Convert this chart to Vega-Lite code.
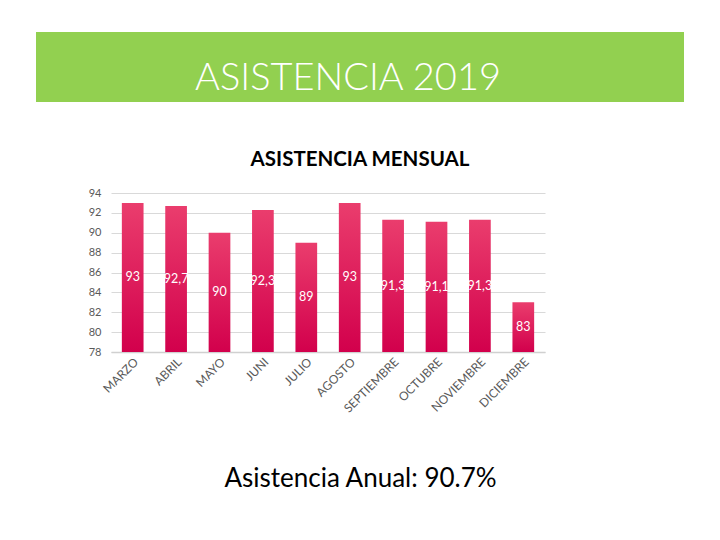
{
  "$schema": "https://vega.github.io/schema/vega-lite/v6.json",
  "background": "white",
  "padding": {"left": 36, "top": 32, "right": 0, "bottom": 0},
  "spacing": 47,
  "config": {"view": {"stroke": null}, "font": "Lato"},
  "vconcat": [
    {
      "width": 648,
      "height": 70,
      "view": {"fill": "#92D050", "stroke": null},
      "data": {"values": [{"t": "ASISTENCIA 2019"}]},
      "mark": {"type": "text", "fontSize": 38, "color": "white", "baseline": "middle", "align": "center", "fontWeight": 300, "dy": 12, "dx": -12},
      "encoding": {"text": {"field": "t", "type": "nominal"}}
    },
    {
      "spacing": 0,
      "hconcat": [
        {
          "width": 1,
          "height": 159,
          "data": {"values": [{"t": ""}]},
          "mark": {"type": "text", "opacity": 0},
          "encoding": {"text": {"field": "t", "type": "nominal"}}
        },
        {
          "width": 434,
          "height": 159,
          "title": {"text": "ASISTENCIA MENSUAL", "fontSize": 20.5, "fontWeight": "bold", "color": "#000000", "dx": 32, "offset": 17, "font": "Lato"},
          "data": {"values": [
            {"mes": "MARZO", "valor": 93},
            {"mes": "ABRIL", "valor": 92.7},
            {"mes": "MAYO", "valor": 90},
            {"mes": "JUNI", "valor": 92.3},
            {"mes": "JULIO", "valor": 89},
            {"mes": "AGOSTO", "valor": 93},
            {"mes": "SEPTIEMBRE", "valor": 91.3},
            {"mes": "OCTUBRE", "valor": 91.1},
            {"mes": "NOVIEMBRE", "valor": 91.3},
            {"mes": "DICIEMBRE", "valor": 83}
          ]},
          "transform": [
            {"calculate": "(datum.valor + 78) / 2", "as": "medio"},
            {"calculate": "replace(toString(datum.valor), '.', ',')", "as": "etiqueta"}
          ],
          "encoding": {
            "x": {
              "field": "mes", "type": "nominal", "sort": null,
              "scale": {"paddingInner": 0.5, "paddingOuter": 0.25},
              "axis": {
                "title": "Asistencia Anual: 90.7%",
                "titleFontSize": 26, "titleFontWeight": "normal", "titleColor": "#000000", "titleFont": "Lato",
                "titleX": 249, "titleY": 126, "titleAlign": "center", "titleBaseline": "middle",
                "labelAngle": -45, "labelFontSize": 12, "labelColor": "#595959", "labelFont": "Lato",
                "ticks": false, "domainColor": "#D0D0D0", "domainWidth": 1.5, "labelPadding": 4
              }
            }
          },
          "layer": [
            {
              "mark": {"type": "bar", "color": {"gradient": "linear", "x1": 0, "y1": 0, "x2": 0, "y2": 1, "stops": [{"offset": 0, "color": "#EA3D6D"}, {"offset": 1, "color": "#D2004C"}]}},
              "encoding": {
                "y": {
                  "field": "valor", "type": "quantitative",
                  "scale": {"domain": [78, 94], "zero": false, "nice": false},
                  "axis": {
                    "title": null, "values": [78, 80, 82, 84, 86, 88, 90, 92, 94],
                    "gridColor": "#D9D9D9", "domain": false, "ticks": false,
                    "labelPadding": 10, "labelColor": "#595959", "labelFontSize": 11, "labelFont": "Lato",
                    "minExtent": 74
                  }
                },
                "y2": {"datum": 78}
              }
            },
            {
              "mark": {"type": "text", "color": "white", "fontSize": 12.5, "baseline": "middle"},
              "encoding": {
                "y": {
                  "field": "medio", "type": "quantitative",
                  "axis": {
                    "title": null, "values": [78, 80, 82, 84, 86, 88, 90, 92, 94],
                    "gridColor": "#D9D9D9", "domain": false, "ticks": false,
                    "labelPadding": 10, "labelColor": "#595959", "labelFontSize": 11, "labelFont": "Lato",
                    "minExtent": 74
                  }
                },
                "text": {"field": "etiqueta", "type": "nominal"}
              }
            }
          ]
        }
      ]
    }
  ]
}
